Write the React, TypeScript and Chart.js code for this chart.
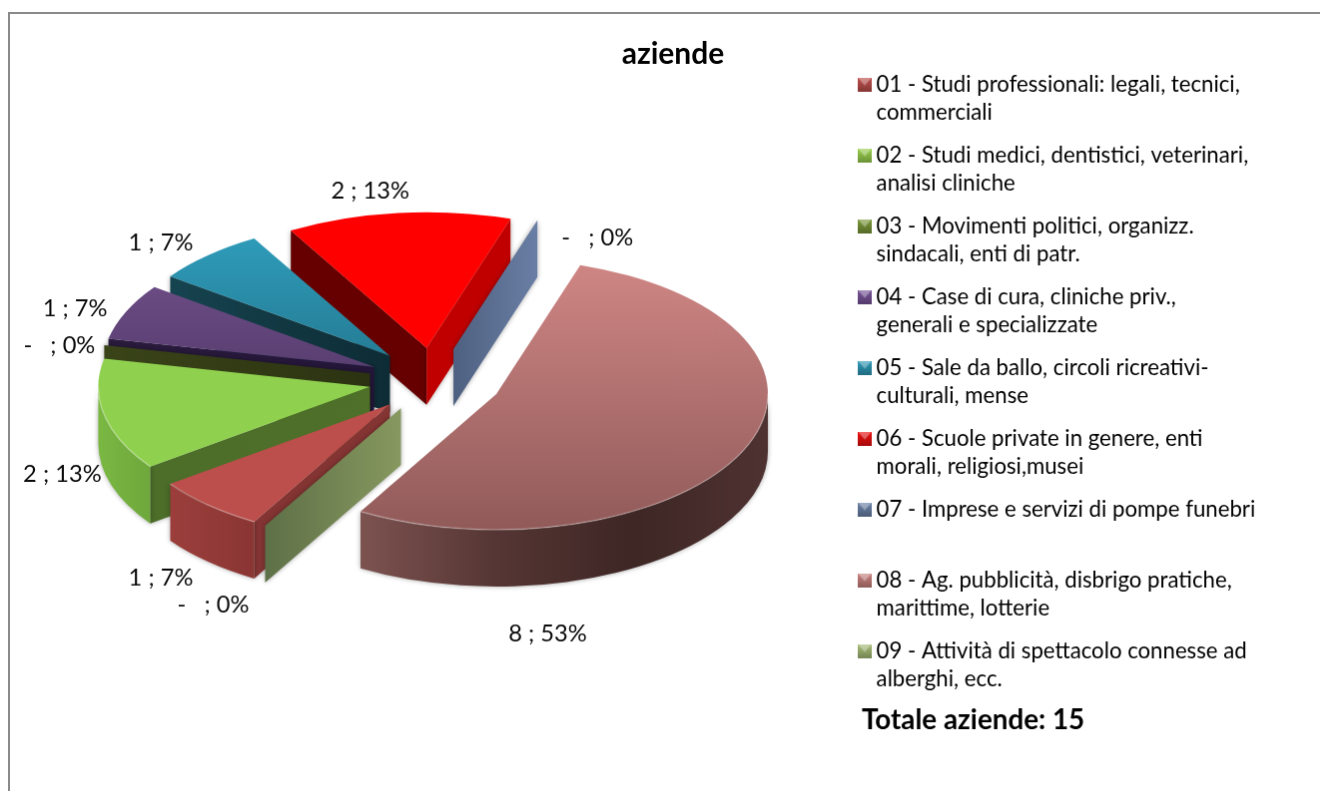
import React, { useEffect, useRef } from "react";
import { Chart, registerables } from "chart.js";

Chart.register(...registerables);

const chartTitle = "aziende";
const categories: string[][] = [
  ["01 - Studi professionali: legali, tecnici,", "commerciali"],
  ["02 - Studi medici, dentistici, veterinari,", "analisi cliniche"],
  ["03 - Movimenti politici, organizz.", "sindacali, enti di patr."],
  ["04 - Case di cura, cliniche priv.,", "generali e specializzate"],
  ["05 - Sale da ballo, circoli ricreativi-", "culturali, mense"],
  ["06 - Scuole private in genere, enti", "morali, religiosi,musei"],
  ["07 - Imprese e servizi di pompe funebri", ""],
  ["08 - Ag. pubblicità, disbrigo pratiche,", "marittime, lotterie"],
  ["09 - Attività di spettacolo connesse ad", "alberghi, ecc."],
];
const values = [1, 2, 0, 1, 1, 2, 0, 8, 0];

const FONT = "Lato";
const topStart = ["#bc4e4b", "#8fd14f", "#8fb04a", "#75548f", "#30a0bf", "#ff0000", "#6a7fa5", "#d08785", "#9bbb59"];
const topEnd = ["#bc4e4b", "#8fd14f", "#8fb04a", "#3f2a55", "#1a5a6c", "#ff0000", "#6a7fa5", "#915b5a", "#9bbb59"];
const wallStops = [
  ["#9c3f3c", "#8a3634"],
  ["#7ab843", "#6fa83c"],
  ["#3a4418", "#3a4418"],
  ["#3f2a55", "#3f2a55"],
  ["#15404c", "#15404c"],
  ["#c00000", "#c00000"],
  ["#6a7fa5", "#6a7fa5"],
  ["#7d5350", "#553634", "#3e2725", "#4e3231"],
  ["#87995f", "#87995f"],
];
const startSide = [
  ["#843533", "#843533"],
  ["#4c6e29", "#4f7029"],
  ["#3a4418", "#2c3312"],
  ["#2a1b3d", "#24163a"],
  ["#164450", "#0e2c35"],
  ["#660000", "#660000"],
  ["#6a7fa5", "#4f6181"],
  ["#7d5350", "#7d5350"],
  ["#5e7047", "#87995f"],
];
const endSide = [
  ["#843533", "#843533"],
  ["#4c6e29", "#4c6e29"],
  ["#3a4418", "#3a4418"],
  ["#2a1b3d", "#2a1b3d"],
  ["#164450", "#164450"],
  ["#c00000", "#c00000"],
  ["#6a7fa5", "#4f6181"],
  ["#7d5350", "#7d5350"],
  ["#5e7047", "#87995f"],
];
const markerColors = ["#c0504d", "#9bd34f", "#7c9a3a", "#7a559c", "#2f9cba", "#f01010", "#6d84ab", "#cc8481", "#a9c079"];

const pieLook = { cx: 424, cy: 367, squash: 0.5, depth: 57 };
const explodeBy = [65, 65, 65, 65, 65, 65, 65, 69, 65];
const labelNudge = [[-47.5, 73.5], [-42, 59.5], [-45, 0.5], [-51, -3], [-47.5, -12.5], [-28, -22.5], [60, 17.5], [-197, 185.5], [-52, 79.5]];

function hGrad(ctx: CanvasRenderingContext2D, x0: number, x1: number, stops: string[]) {
  const g = ctx.createLinearGradient(x0, 0, x1 === x0 ? x0 + 1 : x1, 0);
  stops.forEach((c, i) => g.addColorStop(i / (stops.length - 1), c));
  return g;
}

function makeMarker(color: string) {
  const c = document.createElement("canvas");
  c.width = 14;
  c.height = 14;
  const x = c.getContext("2d")!;
  x.fillStyle = color;
  x.fillRect(0, 0, 14, 14);
  const shade = x.createLinearGradient(0, 0, 0, 14);
  shade.addColorStop(0, "rgba(0,0,0,0)");
  shade.addColorStop(1, "rgba(0,0,0,0.3)");
  x.fillStyle = shade;
  x.fillRect(0, 0, 14, 14);
  x.fillStyle = "rgba(255,255,255,0.35)";
  x.beginPath();
  x.moveTo(0, 0);
  x.lineTo(14, 0);
  x.lineTo(7, 8);
  x.closePath();
  x.fill();
  return c;
}

const pie3d = {
  id: "pie3d",
  afterLayout(chart: any) {
    const l = chart.legend;
    const w = l.right - l.left;
    const h = l.bottom - l.top;
    l.left = 840.5;
    l.right = 840.5 + w;
    l.top = 44.5;
    l.bottom = 44.5 + h;
  },
  beforeDatasetsDraw(chart: any) {
    const ctx: CanvasRenderingContext2D = chart.ctx;
    const { cx, cy, squash: s, depth } = pieLook;
    const arcs: any[] = chart.getDatasetMeta(0).data;
    const total = values.reduce((a, b) => a + b, 0);
    const items = arcs.map((el, i) => {
      const mid = (el.startAngle + el.endAngle) / 2;
      return {
        el,
        i,
        mid,
        a: el.startAngle,
        b: el.endAngle,
        x: cx + Math.cos(mid) * explodeBy[i],
        y: cy + Math.sin(mid) * explodeBy[i] * s,
        r: el.outerRadius,
      };
    });
    const order = [...items].sort((p, q) => p.y - q.y);

    const side = (it: any, ang: number, stops: string[]) => {
      const rx = it.x + it.r * Math.cos(ang);
      const ry = it.y + it.r * s * Math.sin(ang);
      ctx.beginPath();
      ctx.moveTo(it.x, it.y);
      ctx.lineTo(rx, ry);
      ctx.lineTo(rx, ry + depth);
      ctx.lineTo(it.x, it.y + depth);
      ctx.closePath();
      ctx.fillStyle = hGrad(ctx, rx, it.x, stops);
      ctx.fill();
    };

    for (const it of order) {
      ctx.save();
      ctx.shadowColor = "rgba(0,0,0,0.35)";
      ctx.shadowBlur = 5;
      // radial walls that face the viewer
      if (-Math.cos(it.a) > 0) side(it, it.a, startSide[it.i]);
      if (Math.cos(it.b) > 0) side(it, it.b, endSide[it.i]);
      // outer curved wall
      const rims: [number, number][] = [];
      if (it.b > it.a) {
        for (let k = -1; k <= 2; k++) {
          const lo = Math.max(it.a, k * 2 * Math.PI);
          const hi = Math.min(it.b, k * 2 * Math.PI + Math.PI);
          if (hi <= lo) continue;
          rims.push([lo, hi]);
          ctx.beginPath();
          ctx.ellipse(it.x, it.y, it.r, it.r * s, 0, lo, hi);
          ctx.ellipse(it.x, it.y + depth, it.r, it.r * s, 0, hi, lo, true);
          ctx.closePath();
          const xs = [lo, hi].map((t) => it.x + it.r * Math.cos(t));
          const maxX = lo < k * 2 * Math.PI + Math.PI / 2 && hi > k * 2 * Math.PI ? it.x + it.r : Math.max(...xs);
          ctx.fillStyle = hGrad(ctx, Math.min(...xs), maxX, wallStops[it.i]);
          ctx.fill();
        }
      }
      ctx.restore();

      // the library's own arc as the top face, squashed and exploded
      ctx.save();
      ctx.translate(it.x, it.y);
      ctx.scale(1, s);
      ctx.translate(-it.el.x, -it.el.y);
      it.el.draw(ctx);
      ctx.restore();

      ctx.save();
      ctx.strokeStyle = "rgba(255,255,255,0.28)";
      ctx.lineWidth = 1.5;
      for (const [lo, hi] of rims) {
        ctx.beginPath();
        ctx.ellipse(it.x, it.y, it.r, it.r * s, 0, lo, hi);
        ctx.stroke();
      }
      ctx.restore();
    }

    // data labels
    ctx.save();
    ctx.fillStyle = "#0a0a0a";
    ctx.font = `23.7px ${FONT}`;
    ctx.textAlign = "center";
    ctx.textBaseline = "middle";
    items.forEach((it) => {
      const v = values[it.i];
      const pct = Math.round((v / total) * 100);
      const text = v === 0 ? `-   ; ${pct}%` : `${v} ; ${pct}%`;
      const rimX = it.x + it.r * Math.cos(it.mid);
      const rimY = it.y + it.r * s * Math.sin(it.mid);
      ctx.fillText(text, rimX + labelNudge[it.i][0], rimY + labelNudge[it.i][1]);
    });
    ctx.textAlign = "left";
    ctx.textBaseline = "alphabetic";
    ctx.font = `bold 27.8px ${FONT}`;
    ctx.fillStyle = "#000";
    ctx.fillText(`Totale aziende: ${total}`, 853, 717);
    ctx.restore();
    return false;
  },
};

export default function App() {
  const ref = useRef<HTMLCanvasElement>(null);
  useEffect(() => {
    const markers = markerColors.map(makeMarker);
    const chart = new Chart(ref.current!, {
      type: "pie",
      data: {
        labels: categories.map((c) => c.join(" ")),
        datasets: [
          {
            data: values,
            borderWidth: 0,
            hoverOffset: 0,
            backgroundColor: (c: any) => {
              const area = c.chart.chartArea;
              const i = c.dataIndex;
              if (!area || i === undefined) return topStart[i ?? 0];
              const mid = (area.top + area.bottom) / 2;
              const g = c.chart.ctx.createLinearGradient(0, mid - 272, 0, mid + 272);
              g.addColorStop(0, topStart[i]);
              g.addColorStop(1, topEnd[i]);
              return g;
            },
          },
        ],
      },
      plugins: [pie3d],
      options: {
        responsive: false,
        animation: false,
        rotation: 210,
        radius: 272,
        plugins: {
          tooltip: { enabled: false },
          title: {
            display: true,
            text: chartTitle,
            color: "#000",
            font: { family: FONT, size: 30, weight: "bold" },
            padding: { top: 22, bottom: 10 },
          },
          legend: {
            position: "right",
            align: "start",
            labels: {
              usePointStyle: true,
              boxWidth: 1,
              padding: 15,
              color: "#111",
              font: { family: FONT, size: 22.2, lineHeight: 28 / 22.2 },
              generateLabels: () =>
                categories.map((c, i) => ({
                  text: c,
                  pointStyle: markers[i],
                  fillStyle: markerColors[i],
                  strokeStyle: markerColors[i],
                  lineWidth: 0,
                  hidden: false,
                  index: i,
                })),
            },
          },
        },
      },
    } as any);
    return () => chart.destroy();
  }, []);
  return (
    <div style={{ width: 1320, height: 783, overflow: "hidden" }}>
      <canvas
        ref={ref}
        width={1328}
        height={790}
        style={{ display: "block", marginTop: 4, borderTop: "2px solid #8a8a8a", borderLeft: "2px solid #8a8a8a" }}
      />
    </div>
  );
}
